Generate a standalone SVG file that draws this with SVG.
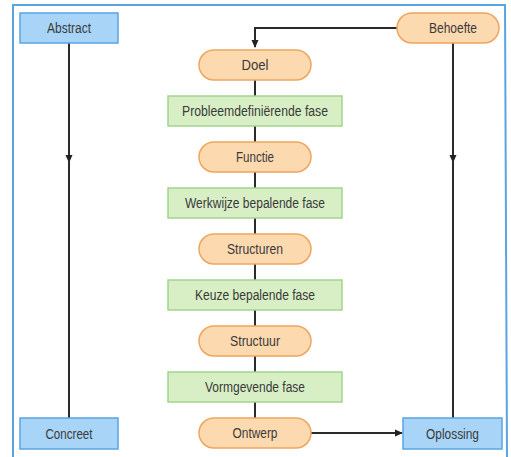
<svg xmlns="http://www.w3.org/2000/svg" width="511" height="457" viewBox="0 0 511 457">
<defs>
<marker id="arr" markerWidth="8" markerHeight="8" refX="7" refY="4" orient="auto" markerUnits="userSpaceOnUse">
<path d="M0,0.5 L8,4 L0,7.5 Z" fill="#222"/>
</marker>
<style>
.blue{fill:#a8d5f7;stroke:#5aa4e2;stroke-width:1.5}
.pill{fill:#fdd9b0;stroke:#eea55e;stroke-width:1.5}
.green{fill:#d8efc6;stroke:#a3d48d;stroke-width:1.5}
.t{font-family:"Liberation Sans",Arial,sans-serif;font-size:14px;fill:#3a3a3a;text-anchor:middle}
.c{fill:none;stroke:#2a2a2a;stroke-width:2}
</style>
</defs>
<rect x="0" y="0" width="511" height="457" fill="#fff"/>
<path d="M13,457 L13,5 L505,5 L507,457" fill="none" stroke="#5aa4e2" stroke-width="2"/>
<g id="connectors">
<line class="c" x1="69" y1="43" x2="69" y2="162" marker-end="url(#arr)"/>
<line class="c" x1="69" y1="160" x2="69" y2="418"/>
<line class="c" x1="453" y1="43" x2="453" y2="162" marker-end="url(#arr)"/>
<line class="c" x1="453" y1="160" x2="453" y2="418"/>
<path class="c" d="M397,28 L255,28 L255,47" marker-end="url(#arr)"/>
<line class="c" x1="255" y1="80" x2="255" y2="418"/>
<line class="c" x1="311" y1="433" x2="402" y2="433" marker-end="url(#arr)"/>
</g>
<g id="abstract"><rect class="blue" x="20" y="13" width="98" height="30"/><text class="t" x="69" y="33" textLength="44" lengthAdjust="spacingAndGlyphs">Abstract</text></g>
<g id="behoefte"><rect class="pill" x="397" y="13" width="102" height="30" rx="15"/><text class="t" x="453" y="33" textLength="48" lengthAdjust="spacingAndGlyphs">Behoefte</text></g>
<g id="doel"><rect class="pill" x="199" y="50" width="112" height="30" rx="15"/><text class="t" x="255" y="70" textLength="27" lengthAdjust="spacingAndGlyphs">Doel</text></g>
<g id="fase1"><rect class="green" x="168" y="96" width="174" height="30"/><text class="t" x="255" y="116" textLength="146" lengthAdjust="spacingAndGlyphs">Probleemdefiniërende fase</text></g>
<g id="functie"><rect class="pill" x="199" y="142" width="112" height="30" rx="15"/><text class="t" x="255" y="162" textLength="38" lengthAdjust="spacingAndGlyphs">Functie</text></g>
<g id="fase2"><rect class="green" x="168" y="188" width="174" height="30"/><text class="t" x="255" y="208" textLength="140" lengthAdjust="spacingAndGlyphs">Werkwijze bepalende fase</text></g>
<g id="structuren"><rect class="pill" x="199" y="234" width="112" height="30" rx="15"/><text class="t" x="255" y="254" textLength="56" lengthAdjust="spacingAndGlyphs">Structuren</text></g>
<g id="fase3"><rect class="green" x="168" y="280" width="174" height="30"/><text class="t" x="255" y="300" textLength="120" lengthAdjust="spacingAndGlyphs">Keuze bepalende fase</text></g>
<g id="structuur"><rect class="pill" x="199" y="326" width="112" height="30" rx="15"/><text class="t" x="255" y="346" textLength="50" lengthAdjust="spacingAndGlyphs">Structuur</text></g>
<g id="fase4"><rect class="green" x="168" y="372" width="174" height="30"/><text class="t" x="255" y="392" textLength="100" lengthAdjust="spacingAndGlyphs">Vormgevende fase</text></g>
<g id="ontwerp"><rect class="pill" x="199" y="418" width="112" height="30" rx="15"/><text class="t" x="255" y="438" textLength="45" lengthAdjust="spacingAndGlyphs">Ontwerp</text></g>
<g id="concreet"><rect class="blue" x="20" y="418" width="98" height="31"/><text class="t" x="69" y="438.5" textLength="47" lengthAdjust="spacingAndGlyphs">Concreet</text></g>
<g id="oplossing"><rect class="blue" x="403" y="418" width="99" height="31"/><text class="t" x="452.5" y="438.5" textLength="53" lengthAdjust="spacingAndGlyphs">Oplossing</text></g>
</svg>
